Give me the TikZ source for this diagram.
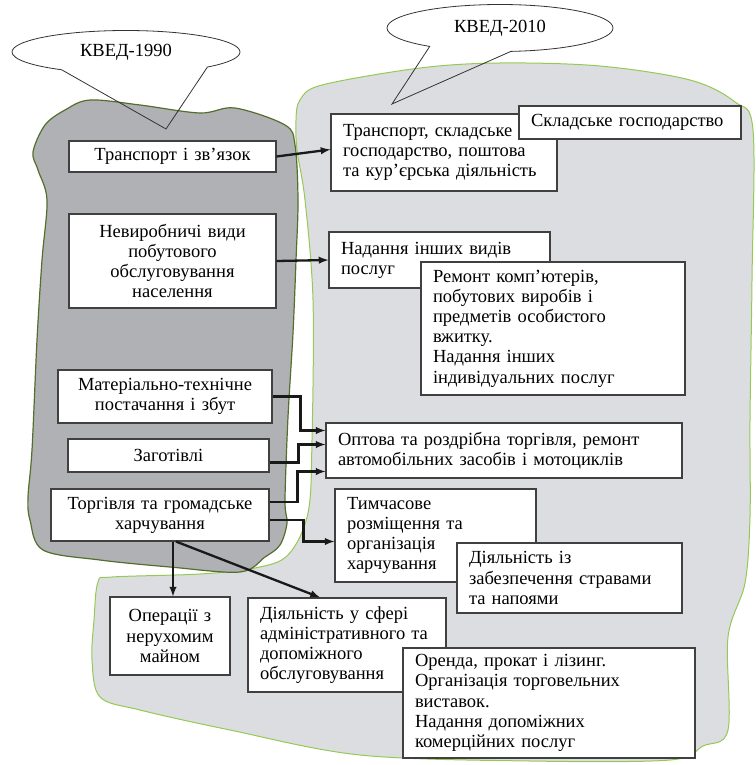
\documentclass[tikz,border=0pt]{standalone}
\usepackage{fontspec}
\setmainfont{Liberation Serif}
\usetikzlibrary{positioning,shapes,shapes.callouts}
\usetikzlibrary{arrows}
\usepackage{xcolor}
\definecolor{oldgray}{RGB}{176,177,180}
\definecolor{newgray}{RGB}{220,221,224}
\definecolor{oldline}{RGB}{84,110,45}
\definecolor{newline}{RGB}{150,200,85}
\newcommand\kvedfont{\fontsize{18.5}{20.2}\selectfont}

\begin{document}
\begin{tikzpicture}
[x=1pt, y=-1pt, font=\kvedfont,
% The oldbox style is used for the sections of KVED-1990
oldbox/.style={rectangle, draw=black!75, line width=1.1pt, fill=white, inner xsep=5pt, inner ysep=0pt, align=center},
% The newbox style is used for the sections of KVED-2010
newbox/.style={rectangle, draw=black!75, line width=1.1pt, fill=white, inner xsep=12pt, inner ysep=0pt, align=left},
% The bubble style is used to draw the names of the classifications
bubble/.style={ellipse callout, draw=black!80, line width=0.8pt, inner sep=0pt},
% The link style is used to draw the arrows
link/.style={-latex, line width=2.3pt, black!90}
]
\useasboundingbox (0,0) rectangle (755,765);
% Draw areas
\filldraw[fill=newgray, draw=newline, line width=1pt] plot[smooth cycle, tension=0.55] coordinates {
  (300,100) (322,85) (420,68) (500,63) (600,66) (690,80) (735,102) (753,130)
  (752,280) (750,420) (750,517) (745,583) (728,637) (728,730) (703,746) (670,760)
  (530,761) (360,755) (230,730) (140,710) (100,697) (92,660) (94,620) (98,582)
  (112,577) (200,574) (255,568) (288,555) (308,513) (312,440) (313,300) (305,200)
  (297,150) (296,120)};
\filldraw[fill=oldgray, draw=oldline, line width=1.2pt] plot[smooth cycle, tension=0.55] coordinates {
  (33,152) (45,125) (65,110) (90,100) (140,105) (200,113) (235,108) (285,125)
  (295,145) (298,200) (296,260) (293,333) (288,417) (285,500) (287,523) (280,545)
  (265,557) (240,572) (170,567) (100,560) (43,550) (30,520) (28,497) (32,450)
  (37,340) (42,260) (47,200) (38,170)};
% Draw names of classifications
\node[bubble, minimum width=228, minimum height=43, callout absolute pointer={(166,129)},
  callout pointer arc=80] (kved1990) at (126,52) {КВЕД-1990};
\node[bubble, minimum width=226, minimum height=47, callout absolute pointer={(392,104)},
  callout pointer arc=44] (kved2010) at (500,28) {КВЕД-2010};
% Draw sections of KVED-1990
\node[oldbox, minimum width=207, minimum height=31, text width=197] (transport) at (172.5,156.5) {Транспорт і зв’язок};
\node[oldbox, minimum width=207, minimum height=94, text width=197] (nevyrob) at (172.5,261) {Невиробничі види\\ побутового\\ обслуговування\\ населення};
\node[oldbox, minimum width=214, minimum height=53, text width=204] (material) at (165,396.5) {Матеріально-технічне\\ постачання і збут};
\node[oldbox, minimum width=201, minimum height=33, text width=191] (zagot) at (168.5,455.5) {Заготівлі};
\node[oldbox, minimum width=218, minimum height=52, text width=208] (torg) at (160,515) {Торгівля та громадське\\ харчування};
% Draw sections of KVED-2010
\node[newbox, minimum height=77, text width=202] (transp) at (444,152.5) {Транспорт, складське\\ господарство, поштова\\ та кур’єрська діяльність};
\node[newbox, minimum height=33, text width=198] (sklad) at (630,122.5) {Складське господарство};
\node[newbox, minimum height=56, text width=197] (nadannia) at (439.5,260) {Надання інших видів\\ послуг};
\node[newbox, minimum height=133, text width=240] (remont) at (553,328.5) {Ремонт комп’ютерів,\\ побутових виробів і\\ предметів особистого\\ вжитку.\\ Надання інших\\ індивідуальних послуг};
\node[newbox, minimum height=55, text width=332] (optova) at (504,450.5) {Оптова та роздрібна торгівля, ремонт\\ автомобільних засобів і мотоциклів};
\node[newbox, minimum height=93, text width=177] (tymch) at (435.5,535.5) {Тимчасове\\ розміщення та\\ організація\\ харчування};
\node[newbox, minimum height=70, text width=201] (strav) at (569.5,578) {Діяльність із\\ забезпечення стравами\\ та напоями};
\node[oldbox, minimum width=120, minimum height=78, text width=110] (operacii) at (170,636) {Операції з\\ нерухомим\\ майном};
\node[newbox, minimum height=94, text width=174] (diyal) at (347,645) {Діяльність у сфері\\ адміністративного та\\ допоміжного\\ обслуговування};
\node[newbox, minimum height=110, text width=268] (orenda) at (549,703) {Оренда, прокат і лізинг.\\ Організація торговельних\\ виставок.\\ Надання допоміжних\\ комерційних послуг};
% Draw arrows
\draw[link] (transport.east) -- ([yshift=3pt]transp.west);
\draw[link] (nevyrob.east) -- (nadannia.west);
\draw[link] (material.east) -- ++(28,0) |- ([yshift=20pt]optova.west);
\draw[link] ([yshift=-7pt]zagot.east) -- ++(29,0) |- ([yshift=6pt]optova.west);
\draw[link] ([yshift=13pt]torg.east) -- ++(28,0) |- ([yshift=-21pt]optova.west);
\draw[link] ([yshift=-5pt]torg.east) -- ++(34,0) |- ([yshift=-6pt]tymch.west);
\draw[link] ([xshift=13pt]torg.south) -- ([xshift=3pt]operacii.north);
\draw[link] ([xshift=16pt]torg.south) -- ([xshift=-27pt]diyal.north);
\end{tikzpicture}
\end{document}
